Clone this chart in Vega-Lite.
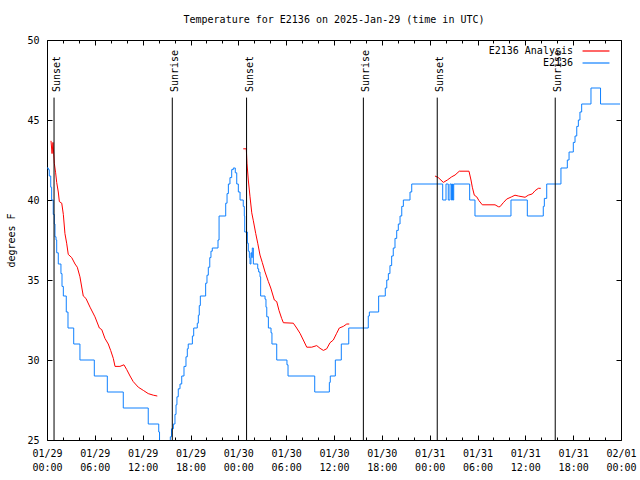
{
  "$schema": "https://vega.github.io/schema/vega-lite/v6.json",
  "autosize": "none",
  "width": 574,
  "height": 400,
  "padding": {"left": 47, "top": 40, "right": 19, "bottom": 40},
  "background": "white",
  "config": {
    "view": {"stroke": "black", "strokeWidth": 1},
    "font": "DejaVu Sans Mono"
  },
  "title": {
    "text": "Temperature for E2136 on 2025-Jan-29 (time in UTC)",
    "font": "DejaVu Sans Mono",
    "fontSize": 10,
    "fontWeight": "normal",
    "color": "black",
    "anchor": "middle",
    "offset": 10
  },
  "datasets": {
    "obs": [
      {"t": "2025-01-29T00:00Z", "temp": 42.0, "series": "E2136"},
      {"t": "2025-01-29T00:10Z", "temp": 41.9, "series": "E2136"},
      {"t": "2025-01-29T00:17Z", "temp": 41.5, "series": "E2136"},
      {"t": "2025-01-29T00:28Z", "temp": 40.8, "series": "E2136"},
      {"t": "2025-01-29T00:35Z", "temp": 40.0, "series": "E2136"},
      {"t": "2025-01-29T00:47Z", "temp": 39.1, "series": "E2136"},
      {"t": "2025-01-29T00:55Z", "temp": 38.5, "series": "E2136"},
      {"t": "2025-01-29T01:00Z", "temp": 37.7, "series": "E2136"},
      {"t": "2025-01-29T01:08Z", "temp": 37.5, "series": "E2136"},
      {"t": "2025-01-29T01:13Z", "temp": 36.7, "series": "E2136"},
      {"t": "2025-01-29T01:25Z", "temp": 36.0, "series": "E2136"},
      {"t": "2025-01-29T01:45Z", "temp": 35.4, "series": "E2136"},
      {"t": "2025-01-29T01:53Z", "temp": 34.6, "series": "E2136"},
      {"t": "2025-01-29T02:03Z", "temp": 34.0, "series": "E2136"},
      {"t": "2025-01-29T02:25Z", "temp": 33.0, "series": "E2136"},
      {"t": "2025-01-29T02:38Z", "temp": 32.0, "series": "E2136"},
      {"t": "2025-01-29T03:21Z", "temp": 31.0, "series": "E2136"},
      {"t": "2025-01-29T04:08Z", "temp": 30.0, "series": "E2136"},
      {"t": "2025-01-29T05:56Z", "temp": 29.0, "series": "E2136"},
      {"t": "2025-01-29T07:34Z", "temp": 28.0, "series": "E2136"},
      {"t": "2025-01-29T09:34Z", "temp": 27.0, "series": "E2136"},
      {"t": "2025-01-29T12:42Z", "temp": 26.0, "series": "E2136"},
      {"t": "2025-01-29T14:01Z", "temp": 25.5, "series": "E2136"},
      {"t": "2025-01-29T14:07Z", "temp": 24.5, "series": "E2136"},
      {"t": "2025-01-29T14:14Z", "temp": 24.0, "series": "E2136"},
      {"t": "2025-01-29T15:22Z", "temp": 24.5, "series": "E2136"},
      {"t": "2025-01-29T15:28Z", "temp": 25.2, "series": "E2136"},
      {"t": "2025-01-29T15:37Z", "temp": 25.7, "series": "E2136"},
      {"t": "2025-01-29T15:51Z", "temp": 26.0, "series": "E2136"},
      {"t": "2025-01-29T16:03Z", "temp": 26.6, "series": "E2136"},
      {"t": "2025-01-29T16:11Z", "temp": 27.2, "series": "E2136"},
      {"t": "2025-01-29T16:18Z", "temp": 27.7, "series": "E2136"},
      {"t": "2025-01-29T16:28Z", "temp": 28.2, "series": "E2136"},
      {"t": "2025-01-29T16:41Z", "temp": 28.5, "series": "E2136"},
      {"t": "2025-01-29T16:54Z", "temp": 29.0, "series": "E2136"},
      {"t": "2025-01-29T17:11Z", "temp": 29.6, "series": "E2136"},
      {"t": "2025-01-29T17:26Z", "temp": 30.2, "series": "E2136"},
      {"t": "2025-01-29T17:36Z", "temp": 30.7, "series": "E2136"},
      {"t": "2025-01-29T17:43Z", "temp": 31.0, "series": "E2136"},
      {"t": "2025-01-29T18:14Z", "temp": 31.5, "series": "E2136"},
      {"t": "2025-01-29T18:24Z", "temp": 32.0, "series": "E2136"},
      {"t": "2025-01-29T18:51Z", "temp": 32.3, "series": "E2136"},
      {"t": "2025-01-29T18:59Z", "temp": 32.8, "series": "E2136"},
      {"t": "2025-01-29T19:06Z", "temp": 33.4, "series": "E2136"},
      {"t": "2025-01-29T19:14Z", "temp": 34.0, "series": "E2136"},
      {"t": "2025-01-29T19:54Z", "temp": 34.8, "series": "E2136"},
      {"t": "2025-01-29T20:04Z", "temp": 35.3, "series": "E2136"},
      {"t": "2025-01-29T20:14Z", "temp": 35.8, "series": "E2136"},
      {"t": "2025-01-29T20:25Z", "temp": 36.4, "series": "E2136"},
      {"t": "2025-01-29T20:34Z", "temp": 36.8, "series": "E2136"},
      {"t": "2025-01-29T20:44Z", "temp": 37.0, "series": "E2136"},
      {"t": "2025-01-29T21:27Z", "temp": 37.5, "series": "E2136"},
      {"t": "2025-01-29T21:35Z", "temp": 39.0, "series": "E2136"},
      {"t": "2025-01-29T22:25Z", "temp": 39.8, "series": "E2136"},
      {"t": "2025-01-29T22:35Z", "temp": 40.4, "series": "E2136"},
      {"t": "2025-01-29T22:45Z", "temp": 41.0, "series": "E2136"},
      {"t": "2025-01-29T22:57Z", "temp": 41.4, "series": "E2136"},
      {"t": "2025-01-29T23:10Z", "temp": 41.9, "series": "E2136"},
      {"t": "2025-01-29T23:22Z", "temp": 42.0, "series": "E2136"},
      {"t": "2025-01-29T23:37Z", "temp": 41.7, "series": "E2136"},
      {"t": "2025-01-29T23:48Z", "temp": 41.0, "series": "E2136"},
      {"t": "2025-01-30T00:00Z", "temp": 40.5, "series": "E2136"},
      {"t": "2025-01-30T00:13Z", "temp": 40.0, "series": "E2136"},
      {"t": "2025-01-30T00:37Z", "temp": 39.6, "series": "E2136"},
      {"t": "2025-01-30T00:45Z", "temp": 39.0, "series": "E2136"},
      {"t": "2025-01-30T00:48Z", "temp": 38.0, "series": "E2136"},
      {"t": "2025-01-30T01:08Z", "temp": 37.3, "series": "E2136"},
      {"t": "2025-01-30T01:15Z", "temp": 36.8, "series": "E2136"},
      {"t": "2025-01-30T01:23Z", "temp": 36.4, "series": "E2136"},
      {"t": "2025-01-30T01:28Z", "temp": 36.0, "series": "E2136"},
      {"t": "2025-01-30T01:35Z", "temp": 36.7, "series": "E2136"},
      {"t": "2025-01-30T01:41Z", "temp": 36.4, "series": "E2136"},
      {"t": "2025-01-30T01:45Z", "temp": 37.0, "series": "E2136"},
      {"t": "2025-01-30T01:53Z", "temp": 36.0, "series": "E2136"},
      {"t": "2025-01-30T02:26Z", "temp": 35.7, "series": "E2136"},
      {"t": "2025-01-30T02:33Z", "temp": 35.5, "series": "E2136"},
      {"t": "2025-01-30T02:43Z", "temp": 35.2, "series": "E2136"},
      {"t": "2025-01-30T02:48Z", "temp": 34.0, "series": "E2136"},
      {"t": "2025-01-30T03:21Z", "temp": 33.8, "series": "E2136"},
      {"t": "2025-01-30T03:28Z", "temp": 33.3, "series": "E2136"},
      {"t": "2025-01-30T03:34Z", "temp": 32.7, "series": "E2136"},
      {"t": "2025-01-30T03:46Z", "temp": 32.0, "series": "E2136"},
      {"t": "2025-01-30T04:06Z", "temp": 31.7, "series": "E2136"},
      {"t": "2025-01-30T04:13Z", "temp": 31.0, "series": "E2136"},
      {"t": "2025-01-30T04:49Z", "temp": 30.0, "series": "E2136"},
      {"t": "2025-01-30T06:06Z", "temp": 29.7, "series": "E2136"},
      {"t": "2025-01-30T06:14Z", "temp": 29.0, "series": "E2136"},
      {"t": "2025-01-30T09:35Z", "temp": 28.0, "series": "E2136"},
      {"t": "2025-01-30T11:25Z", "temp": 28.6, "series": "E2136"},
      {"t": "2025-01-30T11:32Z", "temp": 29.0, "series": "E2136"},
      {"t": "2025-01-30T12:10Z", "temp": 30.0, "series": "E2136"},
      {"t": "2025-01-30T12:55Z", "temp": 31.0, "series": "E2136"},
      {"t": "2025-01-30T13:51Z", "temp": 32.0, "series": "E2136"},
      {"t": "2025-01-30T16:18Z", "temp": 32.75, "series": "E2136"},
      {"t": "2025-01-30T16:26Z", "temp": 33.0, "series": "E2136"},
      {"t": "2025-01-30T17:36Z", "temp": 34.0, "series": "E2136"},
      {"t": "2025-01-30T18:26Z", "temp": 34.5, "series": "E2136"},
      {"t": "2025-01-30T18:37Z", "temp": 35.0, "series": "E2136"},
      {"t": "2025-01-30T18:49Z", "temp": 35.4, "series": "E2136"},
      {"t": "2025-01-30T19:01Z", "temp": 35.9, "series": "E2136"},
      {"t": "2025-01-30T19:14Z", "temp": 36.5, "series": "E2136"},
      {"t": "2025-01-30T19:26Z", "temp": 37.0, "series": "E2136"},
      {"t": "2025-01-30T19:39Z", "temp": 37.6, "series": "E2136"},
      {"t": "2025-01-30T19:52Z", "temp": 38.1, "series": "E2136"},
      {"t": "2025-01-30T20:04Z", "temp": 38.5, "series": "E2136"},
      {"t": "2025-01-30T20:17Z", "temp": 39.0, "series": "E2136"},
      {"t": "2025-01-30T20:30Z", "temp": 39.6, "series": "E2136"},
      {"t": "2025-01-30T20:42Z", "temp": 40.0, "series": "E2136"},
      {"t": "2025-01-30T21:32Z", "temp": 40.5, "series": "E2136"},
      {"t": "2025-01-30T21:45Z", "temp": 41.0, "series": "E2136"},
      {"t": "2025-01-31T01:38Z", "temp": 40.0, "series": "E2136"},
      {"t": "2025-01-31T02:03Z", "temp": 41.0, "series": "E2136"},
      {"t": "2025-01-31T02:20Z", "temp": 40.0, "series": "E2136"},
      {"t": "2025-01-31T02:33Z", "temp": 41.0, "series": "E2136"},
      {"t": "2025-01-31T02:44Z", "temp": 40.0, "series": "E2136"},
      {"t": "2025-01-31T02:52Z", "temp": 41.0, "series": "E2136"},
      {"t": "2025-01-31T02:56Z", "temp": 40.0, "series": "E2136"},
      {"t": "2025-01-31T03:01Z", "temp": 41.0, "series": "E2136"},
      {"t": "2025-01-31T05:01Z", "temp": 40.0, "series": "E2136"},
      {"t": "2025-01-31T05:41Z", "temp": 39.0, "series": "E2136"},
      {"t": "2025-01-31T10:12Z", "temp": 40.0, "series": "E2136"},
      {"t": "2025-01-31T12:15Z", "temp": 39.0, "series": "E2136"},
      {"t": "2025-01-31T14:15Z", "temp": 39.6, "series": "E2136"},
      {"t": "2025-01-31T14:23Z", "temp": 40.1, "series": "E2136"},
      {"t": "2025-01-31T14:41Z", "temp": 41.0, "series": "E2136"},
      {"t": "2025-01-31T16:28Z", "temp": 42.0, "series": "E2136"},
      {"t": "2025-01-31T17:16Z", "temp": 42.5, "series": "E2136"},
      {"t": "2025-01-31T17:29Z", "temp": 43.0, "series": "E2136"},
      {"t": "2025-01-31T18:01Z", "temp": 43.6, "series": "E2136"},
      {"t": "2025-01-31T18:14Z", "temp": 44.0, "series": "E2136"},
      {"t": "2025-01-31T18:27Z", "temp": 44.6, "series": "E2136"},
      {"t": "2025-01-31T18:39Z", "temp": 45.0, "series": "E2136"},
      {"t": "2025-01-31T18:51Z", "temp": 45.5, "series": "E2136"},
      {"t": "2025-01-31T19:04Z", "temp": 46.0, "series": "E2136"},
      {"t": "2025-01-31T20:14Z", "temp": 47.0, "series": "E2136"},
      {"t": "2025-01-31T21:26Z", "temp": 46.0, "series": "E2136"},
      {"t": "2025-01-31T23:53Z", "temp": 46.0, "series": "E2136"}
    ],
    "anl": [
      {"t": "2025-01-29T00:30Z", "temp": 43.7, "series": "E2136 Analysis", "seg": 1},
      {"t": "2025-01-29T00:38Z", "temp": 42.9, "series": "E2136 Analysis", "seg": 1},
      {"t": "2025-01-29T00:45Z", "temp": 43.6, "series": "E2136 Analysis", "seg": 1},
      {"t": "2025-01-29T00:55Z", "temp": 42.3, "series": "E2136 Analysis", "seg": 1},
      {"t": "2025-01-29T01:05Z", "temp": 41.7, "series": "E2136 Analysis", "seg": 1},
      {"t": "2025-01-29T01:13Z", "temp": 41.1, "series": "E2136 Analysis", "seg": 1},
      {"t": "2025-01-29T01:25Z", "temp": 40.5, "series": "E2136 Analysis", "seg": 1},
      {"t": "2025-01-29T01:33Z", "temp": 39.9, "series": "E2136 Analysis", "seg": 1},
      {"t": "2025-01-29T01:51Z", "temp": 39.8, "series": "E2136 Analysis", "seg": 1},
      {"t": "2025-01-29T02:03Z", "temp": 39.1, "series": "E2136 Analysis", "seg": 1},
      {"t": "2025-01-29T02:15Z", "temp": 37.9, "series": "E2136 Analysis", "seg": 1},
      {"t": "2025-01-29T02:28Z", "temp": 37.3, "series": "E2136 Analysis", "seg": 1},
      {"t": "2025-01-29T02:40Z", "temp": 36.6, "series": "E2136 Analysis", "seg": 1},
      {"t": "2025-01-29T03:06Z", "temp": 36.4, "series": "E2136 Analysis", "seg": 1},
      {"t": "2025-01-29T03:31Z", "temp": 36.0, "series": "E2136 Analysis", "seg": 1},
      {"t": "2025-01-29T03:48Z", "temp": 35.8, "series": "E2136 Analysis", "seg": 1},
      {"t": "2025-01-29T04:08Z", "temp": 35.2, "series": "E2136 Analysis", "seg": 1},
      {"t": "2025-01-29T04:33Z", "temp": 34.0, "series": "E2136 Analysis", "seg": 1},
      {"t": "2025-01-29T04:53Z", "temp": 33.85, "series": "E2136 Analysis", "seg": 1},
      {"t": "2025-01-29T05:24Z", "temp": 33.3, "series": "E2136 Analysis", "seg": 1},
      {"t": "2025-01-29T06:01Z", "temp": 32.7, "series": "E2136 Analysis", "seg": 1},
      {"t": "2025-01-29T06:34Z", "temp": 32.0, "series": "E2136 Analysis", "seg": 1},
      {"t": "2025-01-29T06:52Z", "temp": 31.9, "series": "E2136 Analysis", "seg": 1},
      {"t": "2025-01-29T07:16Z", "temp": 31.35, "series": "E2136 Analysis", "seg": 1},
      {"t": "2025-01-29T07:41Z", "temp": 31.0, "series": "E2136 Analysis", "seg": 1},
      {"t": "2025-01-29T07:59Z", "temp": 30.6, "series": "E2136 Analysis", "seg": 1},
      {"t": "2025-01-29T08:19Z", "temp": 30.1, "series": "E2136 Analysis", "seg": 1},
      {"t": "2025-01-29T08:32Z", "temp": 29.6, "series": "E2136 Analysis", "seg": 1},
      {"t": "2025-01-29T09:09Z", "temp": 29.6, "series": "E2136 Analysis", "seg": 1},
      {"t": "2025-01-29T09:39Z", "temp": 29.7, "series": "E2136 Analysis", "seg": 1},
      {"t": "2025-01-29T10:00Z", "temp": 29.4, "series": "E2136 Analysis", "seg": 1},
      {"t": "2025-01-29T10:25Z", "temp": 29.0, "series": "E2136 Analysis", "seg": 1},
      {"t": "2025-01-29T10:49Z", "temp": 28.65, "series": "E2136 Analysis", "seg": 1},
      {"t": "2025-01-29T11:27Z", "temp": 28.3, "series": "E2136 Analysis", "seg": 1},
      {"t": "2025-01-29T12:05Z", "temp": 28.1, "series": "E2136 Analysis", "seg": 1},
      {"t": "2025-01-29T12:42Z", "temp": 27.9, "series": "E2136 Analysis", "seg": 1},
      {"t": "2025-01-29T13:20Z", "temp": 27.8, "series": "E2136 Analysis", "seg": 1},
      {"t": "2025-01-29T13:50Z", "temp": 27.75, "series": "E2136 Analysis", "seg": 1},
      {"t": "2025-01-30T00:37Z", "temp": 43.2, "series": "E2136 Analysis", "seg": 2},
      {"t": "2025-01-30T01:00Z", "temp": 43.2, "series": "E2136 Analysis", "seg": 2},
      {"t": "2025-01-30T01:05Z", "temp": 42.3, "series": "E2136 Analysis", "seg": 2},
      {"t": "2025-01-30T01:15Z", "temp": 41.25, "series": "E2136 Analysis", "seg": 2},
      {"t": "2025-01-30T01:28Z", "temp": 40.2, "series": "E2136 Analysis", "seg": 2},
      {"t": "2025-01-30T01:41Z", "temp": 39.2, "series": "E2136 Analysis", "seg": 2},
      {"t": "2025-01-30T01:53Z", "temp": 38.7, "series": "E2136 Analysis", "seg": 2},
      {"t": "2025-01-30T02:11Z", "temp": 37.9, "series": "E2136 Analysis", "seg": 2},
      {"t": "2025-01-30T02:26Z", "temp": 37.3, "series": "E2136 Analysis", "seg": 2},
      {"t": "2025-01-30T02:43Z", "temp": 36.56, "series": "E2136 Analysis", "seg": 2},
      {"t": "2025-01-30T03:00Z", "temp": 36.1, "series": "E2136 Analysis", "seg": 2},
      {"t": "2025-01-30T03:21Z", "temp": 35.5, "series": "E2136 Analysis", "seg": 2},
      {"t": "2025-01-30T03:46Z", "temp": 34.9, "series": "E2136 Analysis", "seg": 2},
      {"t": "2025-01-30T04:04Z", "temp": 34.5, "series": "E2136 Analysis", "seg": 2},
      {"t": "2025-01-30T04:31Z", "temp": 33.75, "series": "E2136 Analysis", "seg": 2},
      {"t": "2025-01-30T04:49Z", "temp": 33.65, "series": "E2136 Analysis", "seg": 2},
      {"t": "2025-01-30T05:06Z", "temp": 33.1, "series": "E2136 Analysis", "seg": 2},
      {"t": "2025-01-30T05:26Z", "temp": 32.6, "series": "E2136 Analysis", "seg": 2},
      {"t": "2025-01-30T05:39Z", "temp": 32.33, "series": "E2136 Analysis", "seg": 2},
      {"t": "2025-01-30T06:54Z", "temp": 32.3, "series": "E2136 Analysis", "seg": 2},
      {"t": "2025-01-30T07:19Z", "temp": 32.0, "series": "E2136 Analysis", "seg": 2},
      {"t": "2025-01-30T07:44Z", "temp": 31.67, "series": "E2136 Analysis", "seg": 2},
      {"t": "2025-01-30T08:09Z", "temp": 31.25, "series": "E2136 Analysis", "seg": 2},
      {"t": "2025-01-30T08:35Z", "temp": 30.8, "series": "E2136 Analysis", "seg": 2},
      {"t": "2025-01-30T09:12Z", "temp": 30.8, "series": "E2136 Analysis", "seg": 2},
      {"t": "2025-01-30T09:50Z", "temp": 30.9, "series": "E2136 Analysis", "seg": 2},
      {"t": "2025-01-30T10:15Z", "temp": 30.73, "series": "E2136 Analysis", "seg": 2},
      {"t": "2025-01-30T10:40Z", "temp": 30.6, "series": "E2136 Analysis", "seg": 2},
      {"t": "2025-01-30T11:05Z", "temp": 30.7, "series": "E2136 Analysis", "seg": 2},
      {"t": "2025-01-30T11:30Z", "temp": 31.08, "series": "E2136 Analysis", "seg": 2},
      {"t": "2025-01-30T11:55Z", "temp": 31.25, "series": "E2136 Analysis", "seg": 2},
      {"t": "2025-01-30T12:20Z", "temp": 31.67, "series": "E2136 Analysis", "seg": 2},
      {"t": "2025-01-30T12:40Z", "temp": 32.0, "series": "E2136 Analysis", "seg": 2},
      {"t": "2025-01-30T13:10Z", "temp": 32.1, "series": "E2136 Analysis", "seg": 2},
      {"t": "2025-01-30T13:36Z", "temp": 32.25, "series": "E2136 Analysis", "seg": 2},
      {"t": "2025-01-30T13:55Z", "temp": 32.25, "series": "E2136 Analysis", "seg": 2},
      {"t": "2025-01-31T00:40Z", "temp": 41.5, "series": "E2136 Analysis", "seg": 3},
      {"t": "2025-01-31T01:05Z", "temp": 41.4, "series": "E2136 Analysis", "seg": 3},
      {"t": "2025-01-31T01:43Z", "temp": 41.1, "series": "E2136 Analysis", "seg": 3},
      {"t": "2025-01-31T02:13Z", "temp": 41.25, "series": "E2136 Analysis", "seg": 3},
      {"t": "2025-01-31T02:46Z", "temp": 41.45, "series": "E2136 Analysis", "seg": 3},
      {"t": "2025-01-31T03:11Z", "temp": 41.56, "series": "E2136 Analysis", "seg": 3},
      {"t": "2025-01-31T03:43Z", "temp": 41.8, "series": "E2136 Analysis", "seg": 3},
      {"t": "2025-01-31T04:56Z", "temp": 41.8, "series": "E2136 Analysis", "seg": 3},
      {"t": "2025-01-31T05:11Z", "temp": 41.25, "series": "E2136 Analysis", "seg": 3},
      {"t": "2025-01-31T05:21Z", "temp": 40.8, "series": "E2136 Analysis", "seg": 3},
      {"t": "2025-01-31T05:36Z", "temp": 40.3, "series": "E2136 Analysis", "seg": 3},
      {"t": "2025-01-31T05:54Z", "temp": 40.2, "series": "E2136 Analysis", "seg": 3},
      {"t": "2025-01-31T06:11Z", "temp": 39.96, "series": "E2136 Analysis", "seg": 3},
      {"t": "2025-01-31T06:36Z", "temp": 39.7, "series": "E2136 Analysis", "seg": 3},
      {"t": "2025-01-31T08:12Z", "temp": 39.7, "series": "E2136 Analysis", "seg": 3},
      {"t": "2025-01-31T08:37Z", "temp": 39.58, "series": "E2136 Analysis", "seg": 3},
      {"t": "2025-01-31T08:49Z", "temp": 39.58, "series": "E2136 Analysis", "seg": 3},
      {"t": "2025-01-31T09:14Z", "temp": 39.83, "series": "E2136 Analysis", "seg": 3},
      {"t": "2025-01-31T09:40Z", "temp": 40.06, "series": "E2136 Analysis", "seg": 3},
      {"t": "2025-01-31T10:17Z", "temp": 40.2, "series": "E2136 Analysis", "seg": 3},
      {"t": "2025-01-31T10:42Z", "temp": 40.3, "series": "E2136 Analysis", "seg": 3},
      {"t": "2025-01-31T11:07Z", "temp": 40.25, "series": "E2136 Analysis", "seg": 3},
      {"t": "2025-01-31T11:58Z", "temp": 40.17, "series": "E2136 Analysis", "seg": 3},
      {"t": "2025-01-31T12:22Z", "temp": 40.3, "series": "E2136 Analysis", "seg": 3},
      {"t": "2025-01-31T12:52Z", "temp": 40.38, "series": "E2136 Analysis", "seg": 3},
      {"t": "2025-01-31T13:13Z", "temp": 40.58, "series": "E2136 Analysis", "seg": 3},
      {"t": "2025-01-31T13:38Z", "temp": 40.73, "series": "E2136 Analysis", "seg": 3},
      {"t": "2025-01-31T13:56Z", "temp": 40.73, "series": "E2136 Analysis", "seg": 3}
    ],
    "sun": [
      {"t": "2025-01-29T00:53Z", "event": "Sunset"},
      {"t": "2025-01-29T15:43Z", "event": "Sunrise"},
      {"t": "2025-01-30T01:02Z", "event": "Sunset"},
      {"t": "2025-01-30T15:41Z", "event": "Sunrise"},
      {"t": "2025-01-31T00:57Z", "event": "Sunset"},
      {"t": "2025-01-31T15:45Z", "event": "Sunrise"}
    ]
  },
  "resolve": {"axis": {"x": "independent", "y": "independent"}},
  "layer": [
    {
      "data": {"name": "obs"},
      "mark": {"type": "line", "interpolate": "step-after", "strokeWidth": 1, "clip": true},
      "encoding": {
        "x": {
          "field": "t", "type": "temporal",
          "scale": {"type": "utc", "domain": [1738108800000, 1738368000000]},
          "axis": {
            "orient": "bottom", "domain": false, "grid": false, "title": null,
            "values": [1738108800000, 1738130400000, 1738152000000, 1738173600000, 1738195200000, 1738216800000, 1738238400000, 1738260000000, 1738281600000, 1738303200000, 1738324800000, 1738346400000, 1738368000000],
            "tickSize": -5, "tickColor": "black",
            "labelExpr": "[utcFormat(datum.value, '%m/%d'), utcFormat(datum.value, '%H:%M')]",
            "labelFont": "DejaVu Sans Mono", "labelFontSize": 10, "labelColor": "black",
            "labelPadding": 13, "labelLineHeight": 14, "labelFlush": false, "labelOverlap": false
          }
        },
        "y": {
          "field": "temp", "type": "quantitative",
          "scale": {"domain": [25, 50], "nice": false, "zero": false},
          "axis": {
            "orient": "left", "domain": false, "grid": false, "title": "degrees F",
            "values": [25, 30, 35, 40, 45, 50], "tickSize": -5, "tickColor": "black",
            "labelFont": "DejaVu Sans Mono", "labelFontSize": 10, "labelColor": "black", "labelPadding": 13,
            "titleFont": "DejaVu Sans Mono", "titleFontSize": 10, "titleFontWeight": "normal", "titleColor": "black",
            "titleX": -36, "titleY": 200, "titleBaseline": "middle", "titleAngle": 270
          }
        },
        "color": {
          "field": "series", "type": "nominal",
          "scale": {"domain": ["E2136 Analysis", "E2136"], "range": ["#ff0000", "#0f80ff"]},
          "legend": {
            "orient": "none", "legendX": 544, "legendY": 6, "title": null, "padding": 0,
            "symbolType": "M-5,0H5", "symbolSize": 29, "symbolStrokeWidth": 1.2,
            "labelAlign": "right", "labelOffset": -28, "labelFont": "DejaVu Sans Mono", "labelFontSize": 10, "labelColor": "black",
            "rowPadding": 2
          }
        }
      }
    },
    {
      "data": {"name": "anl"},
      "mark": {"type": "line", "strokeWidth": 1, "clip": true},
      "encoding": {
        "x": {
          "field": "t", "type": "temporal",
          "axis": {
            "orient": "top", "domain": false, "grid": false, "title": null, "labels": false,
            "values": [1738108800000, 1738130400000, 1738152000000, 1738173600000, 1738195200000, 1738216800000, 1738238400000, 1738260000000, 1738281600000, 1738303200000, 1738324800000, 1738346400000, 1738368000000],
            "tickSize": -5, "tickColor": "black"
          }
        },
        "y": {
          "field": "temp", "type": "quantitative",
          "axis": {
            "orient": "right", "domain": false, "grid": false, "title": null, "labels": false,
            "values": [25, 30, 35, 40, 45, 50], "tickSize": -5, "tickColor": "black"
          }
        },
        "color": {"field": "series", "type": "nominal"},
        "detail": {"field": "seg", "type": "nominal"}
      }
    },
    {
      "data": {"name": "sun"},
      "mark": {"type": "rule", "color": "black", "strokeWidth": 1},
      "encoding": {
        "x": {
          "field": "t", "type": "temporal",
          "axis": {
            "orient": "bottom", "domain": false, "grid": false, "title": null, "labels": false,
            "values": [1738116000000, 1738123200000, 1738137600000, 1738144800000, 1738159200000, 1738166400000, 1738180800000, 1738188000000, 1738202400000, 1738209600000, 1738224000000, 1738231200000, 1738245600000, 1738252800000, 1738267200000, 1738274400000, 1738288800000, 1738296000000, 1738310400000, 1738317600000, 1738332000000, 1738339200000, 1738353600000, 1738360800000],
            "tickSize": -3, "tickColor": "black"
          }
        },
        "y": {"datum": 46.4, "type": "quantitative", "axis": null},
        "y2": {"datum": 25}
      }
    },
    {
      "data": {"name": "sun"},
      "mark": {"type": "text", "angle": 270, "align": "left", "baseline": "middle", "dy": 3, "font": "DejaVu Sans Mono", "fontSize": 10, "color": "black"},
      "encoding": {
        "x": {
          "field": "t", "type": "temporal",
          "axis": {
            "orient": "top", "domain": false, "grid": false, "title": null, "labels": false,
            "values": [1738116000000, 1738123200000, 1738137600000, 1738144800000, 1738159200000, 1738166400000, 1738180800000, 1738188000000, 1738202400000, 1738209600000, 1738224000000, 1738231200000, 1738245600000, 1738252800000, 1738267200000, 1738274400000, 1738288800000, 1738296000000, 1738310400000, 1738317600000, 1738332000000, 1738339200000, 1738353600000, 1738360800000],
            "tickSize": -3, "tickColor": "black"
          }
        },
        "y": {"datum": 46.75, "type": "quantitative", "axis": null},
        "text": {"field": "event"}
      }
    }
  ]
}
